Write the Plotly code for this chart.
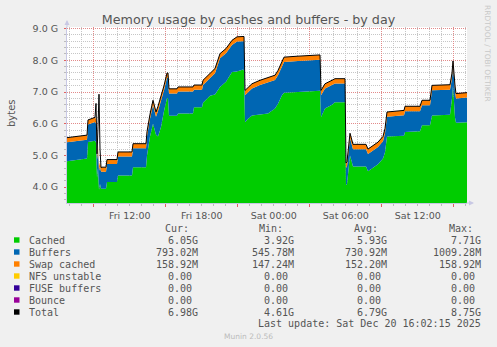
import plotly.graph_objects as go

# ---------------- data (hours since Fri 00:00, values in GiB) ----------------
hours = [6.770, 7.603, 8.437, 8.520, 9.020, 9.103, 9.187, 9.270, 9.353, 9.437,
         9.520, 9.603, 9.687, 10.020, 10.103, 10.937, 11.020, 12.187, 12.270, 13.353,
         13.437, 13.520, 13.687, 13.937, 14.187, 14.353, 14.603, 14.853, 15.103, 15.187,
         15.270, 15.937, 16.020, 17.270, 17.353, 18.020, 18.103, 18.687, 19.103, 19.520,
         20.020, 20.520, 20.937, 21.437, 21.520, 21.603, 21.853, 22.187, 22.853, 23.520,
         24.103, 24.353, 24.687, 24.853, 26.020, 27.187, 27.853, 27.937, 28.270, 28.853,
         29.103, 29.937, 30.020, 30.103, 30.353, 30.603, 31.603, 31.687, 31.853, 32.187,
         32.687, 33.103, 33.270, 33.437, 34.853, 34.937, 36.187, 36.353, 37.020, 37.187,
         38.687, 38.853, 38.937, 39.103, 39.187, 40.103]

cached = [4.82, 4.86, 4.90, 5.42, 5.46, 5.46, 5.40, 4.30, 4.60, 3.92,
          4.10, 3.95, 3.95, 3.95, 4.16, 4.16, 4.37, 4.37, 4.63, 4.63,
          5.00, 5.20, 5.60, 6.00, 5.65, 5.60, 5.90, 6.40, 6.80, 6.80,
          6.25, 6.25, 6.32, 6.32, 6.52, 6.52, 6.66, 6.88, 6.92, 7.16,
          7.32, 7.63, 7.65, 7.71, 7.68, 6.05, 6.16, 6.26, 6.28, 6.32,
          6.48, 6.63, 6.90, 6.98, 7.00, 7.02, 7.04, 6.21, 6.48, 6.60,
          6.68, 6.68, 4.06, 4.10, 5.00, 4.65, 4.67, 4.65, 4.50, 4.60,
          4.72, 4.90, 5.10, 5.60, 5.62, 5.74, 5.76, 5.95, 5.95, 6.26,
          6.28, 6.80, 7.20, 6.20, 6.03, 6.05]

buffers = [0.596, 0.596, 0.596, 0.556, 0.576, 0.596, 0.600, 0.560, 0.580, 0.600,
           0.550, 0.540, 0.536, 0.536, 0.566, 0.566, 0.596, 0.596, 0.596, 0.596,
           0.603, 0.603, 0.553, 0.593, 0.573, 0.803, 0.803, 0.653, 0.653, 0.653,
           0.703, 0.703, 0.693, 0.693, 0.553, 0.553, 0.563, 0.553, 0.673, 0.903,
           0.903, 0.853, 0.943, 0.893, 0.923, 0.850, 0.840, 0.850, 0.940, 0.980,
           0.900, 0.900, 0.900, 0.970, 0.980, 0.980, 0.980, 0.688, 0.628, 0.618,
           0.588, 0.588, 0.548, 0.548, 0.548, 0.548, 0.548, 0.548, 0.548, 0.548,
           0.548, 0.548, 0.598, 0.618, 0.648, 0.655, 0.635, 0.635, 0.635, 0.795,
           0.795, 0.645, 0.625, 0.845, 0.765, 0.775]

swap_cached = [0.144, 0.144, 0.144, 0.144, 0.144, 0.144, 0.144, 0.144, 0.144, 0.144,
               0.144, 0.144, 0.144, 0.144, 0.144, 0.144, 0.144, 0.144, 0.144, 0.144,
               0.147, 0.147, 0.147, 0.147, 0.147, 0.147, 0.147, 0.147, 0.147, 0.147,
               0.147, 0.147, 0.147, 0.147, 0.147, 0.147, 0.147, 0.147, 0.147, 0.147,
               0.147, 0.147, 0.147, 0.147, 0.147, 0.150, 0.150, 0.150, 0.150, 0.150,
               0.150, 0.150, 0.150, 0.150, 0.150, 0.150, 0.150, 0.152, 0.152, 0.152,
               0.152, 0.152, 0.152, 0.152, 0.152, 0.152, 0.152, 0.152, 0.152, 0.152,
               0.152, 0.152, 0.152, 0.152, 0.152, 0.155, 0.155, 0.155, 0.155, 0.155,
               0.155, 0.155, 0.155, 0.155, 0.155, 0.155]

total = [5.56, 5.60, 5.64, 6.12, 6.18, 6.20, 6.64, 5.05, 5.90, 6.93,
         5.20, 4.62, 4.63, 4.63, 4.87, 4.87, 5.11, 5.11, 5.37, 5.37,
         5.75, 5.95, 6.30, 6.74, 6.37, 6.55, 6.85, 7.20, 7.60, 7.60,
         7.10, 7.10, 7.16, 7.16, 7.22, 7.22, 7.37, 7.58, 7.74, 8.21,
         8.37, 8.63, 8.74, 8.75, 8.75, 7.05, 7.15, 7.26, 7.37, 7.45,
         7.53, 7.68, 7.95, 8.10, 8.13, 8.15, 8.17, 7.05, 7.26, 7.37,
         7.42, 7.42, 4.76, 4.80, 5.70, 5.35, 5.37, 5.35, 5.20, 5.30,
         5.42, 5.60, 5.85, 6.37, 6.42, 6.55, 6.55, 6.74, 6.74, 7.21,
         7.23, 7.60, 7.98, 7.20, 6.95, 6.98]

x_tick_vals = [12, 18, 24, 30, 36]
x_tick_text = ["Fri 12:00", "Fri 18:00", "Sat 00:00", "Sat 06:00", "Sat 12:00"]
major_grid_hours = [9, 15, 21, 27, 33, 39]
x_range = [6.77, 40.103]
y_range = [3.5, 9.05]

legend_names = ["Cached", "Buffers", "Swap cached", "NFS unstable", "FUSE buffers", "Bounce", "Total"]
legend_colors = ["#00CC00", "#0066B3", "#FF8000", "#FFCC00", "#330099", "#990099", "#000000"]
cur_vals = ["6.05G", "793.02M", "158.92M", "0.00 ", "0.00 ", "0.00 ", "6.98G"]
min_vals = ["3.92G", "545.78M", "147.24M", "0.00 ", "0.00 ", "0.00 ", "4.61G"]
avg_vals = ["5.93G", "730.92M", "152.20M", "0.00 ", "0.00 ", "0.00 ", "6.79G"]
max_vals = ["7.71G", "1009.28M", "158.92M", "0.00 ", "0.00 ", "0.00 ", "8.75G"]
last_update = "Last update: Sat Dec 20 16:02:15 2025"

# ---------------- geometry (pixels) ----------------
W, H = 497, 347
L, R, T, B = 67, 467, 27, 203


def px(x):
    return (x - L) / (R - L)


def py(y):
    return (B - y) / (B - T)


TXT = "#555555"
SANS = "DejaVu Sans"
MONO = "DejaVu Sans Mono"
MINOR = "#C6C6C6"
MAJOR = "#E28A8A"
AXIS = "#C8C8E4"

fig = go.Figure()
series = [("Cached", cached, "#00CC00"), ("Buffers", buffers, "#0066B3"),
          ("Swap cached", swap_cached, "#FF8000")]
for name, vals, col in series:
    fig.add_trace(go.Scatter(x=hours, y=vals, name=name, stackgroup="mem", mode="lines",
                             line=dict(width=0, color=col), fillcolor=col,
                             hoverinfo="skip", showlegend=False))
fig.add_trace(go.Scatter(x=hours, y=total, name="Total", mode="lines",
                         line=dict(width=1, color="#000000"), hoverinfo="skip", showlegend=False))
# helper trace so the overlaying grid axis is rendered
fig.add_trace(go.Scatter(x=x_range, y=[None, None], xaxis="x2", mode="lines",
                         showlegend=False, hoverinfo="skip"))

fig.update_layout(
    width=W, height=H,
    margin=dict(l=L, r=W - R, t=T, b=H - B, pad=0),
    paper_bgcolor="#F0F0F0", plot_bgcolor="#FFFFFF",
    font=dict(family=SANS, size=9.5, color=TXT),
    title=dict(text="Memory usage by cashes and buffers - by day", x=0.5, xref="container",
               xanchor="center", y=1 - 20 / H, yref="container", yanchor="middle",
               font=dict(family=SANS, size=12.7, color=TXT)),
    xaxis=dict(range=x_range, tickmode="array", tickvals=x_tick_vals, ticktext=x_tick_text,
               showgrid=False, zeroline=False, showline=True, linecolor=AXIS, linewidth=1,
               ticks="", ticklabelstandoff=4, tickfont=dict(size=9.5, color=TXT),
               minor=dict(tickmode="linear", tick0=0, dtick=1, showgrid=True, gridcolor=MINOR,
                          griddash="1px,1px", gridwidth=1, ticks="outside", ticklen=2,
                          tickcolor="#BBBBBB")),
    xaxis2=dict(range=x_range, overlaying="x", side="bottom", anchor="y", tickmode="array",
                tickvals=major_grid_hours, showticklabels=False, showgrid=True,
                gridcolor=MAJOR, griddash="1px,1px", gridwidth=1, ticks="outside",
                ticklen=3, tickcolor="#E06060", zeroline=False, showline=False),
    yaxis=dict(range=y_range, tickmode="linear", tick0=0, dtick=1, tickformat=".1f",
               ticksuffix=" G", showgrid=True, gridcolor=MAJOR, griddash="1px,1px",
               zeroline=False, showline=True, linecolor=AXIS, linewidth=1,
               ticks="outside", ticklen=2, tickcolor="#E06060", ticklabelstandoff=4,
               tickfont=dict(size=9.5, color=TXT),
               minor=dict(tickmode="linear", tick0=0, dtick=0.2, showgrid=True, gridcolor=MINOR,
                          griddash="1px,1px", gridwidth=1, ticks="outside", ticklen=2,
                          tickcolor="#BBBBBB")),
)

ann = []
shapes = []
# axis arrows
ann.append(dict(x=px(474), y=py(B), xref="paper", yref="paper", text="", showarrow=True,
                ax=-9, ay=0, arrowhead=2, arrowsize=1, arrowwidth=1, arrowcolor=AXIS))
ann.append(dict(x=px(L), y=py(20), xref="paper", yref="paper", text="", showarrow=True,
                ax=0, ay=9, arrowhead=2, arrowsize=1, arrowwidth=1, arrowcolor=AXIS))
# y axis title
ann.append(dict(x=px(11), y=py(113), xref="paper", yref="paper", text="bytes", showarrow=False,
                textangle=-90, font=dict(family=SANS, size=10, color=TXT),
                xanchor="center", yanchor="middle"))
# rrdtool watermark
ann.append(dict(x=px(488), y=py(53), xref="paper", yref="paper", text="RRDTOOL / TOBI OETIKER",
                showarrow=False, textangle=90, font=dict(family=SANS, size=7.5, color="#C8C8C8"),
                xanchor="center", yanchor="middle"))

# legend table
col_right = [200, 295.5, 389, 483]
col_header_left = [163, 257, 351.5, 446.5]
headers = ["Cur:", "Min:", "Avg:", "Max:"]
row_y0, row_dy = 240, 12
for h_txt, hx in zip(headers, col_header_left):
    ann.append(dict(x=px(hx), y=py(228), xref="paper", yref="paper", text=h_txt, showarrow=False,
                    xanchor="left", yanchor="middle", font=dict(family=MONO, size=10, color=TXT)))
for i, name in enumerate(legend_names):
    yy = row_y0 + i * row_dy
    shapes.append(dict(type="rect", xref="paper", yref="paper", x0=px(14), x1=px(19.5),
                       y0=py(yy + 2.7), y1=py(yy - 2.7), fillcolor=legend_colors[i],
                       line=dict(width=0)))
    ann.append(dict(x=px(26.5), y=py(yy), xref="paper", yref="paper", text=name, showarrow=False,
                    xanchor="left", yanchor="middle", font=dict(family=MONO, size=10, color=TXT)))
    for vals, cx in zip([cur_vals, min_vals, avg_vals, max_vals], col_right):
        ann.append(dict(x=px(cx), y=py(yy), xref="paper", yref="paper",
                        text=vals[i].replace(" ", "\u00a0"), showarrow=False,
                        xanchor="right", yanchor="middle",
                        font=dict(family=MONO, size=10, color=TXT)))
ann.append(dict(x=px(483), y=py(323.5), xref="paper", yref="paper", text=last_update,
                showarrow=False, xanchor="right", yanchor="middle",
                font=dict(family=MONO, size=10, color=TXT)))
ann.append(dict(x=px(248), y=py(336), xref="paper", yref="paper", text="Munin 2.0.56",
                showarrow=False, xanchor="center", yanchor="middle",
                font=dict(family=SANS, size=7.5, color="#BBBBBB")))

fig.update_layout(annotations=ann, shapes=shapes)
fig.write_html("out.html")
